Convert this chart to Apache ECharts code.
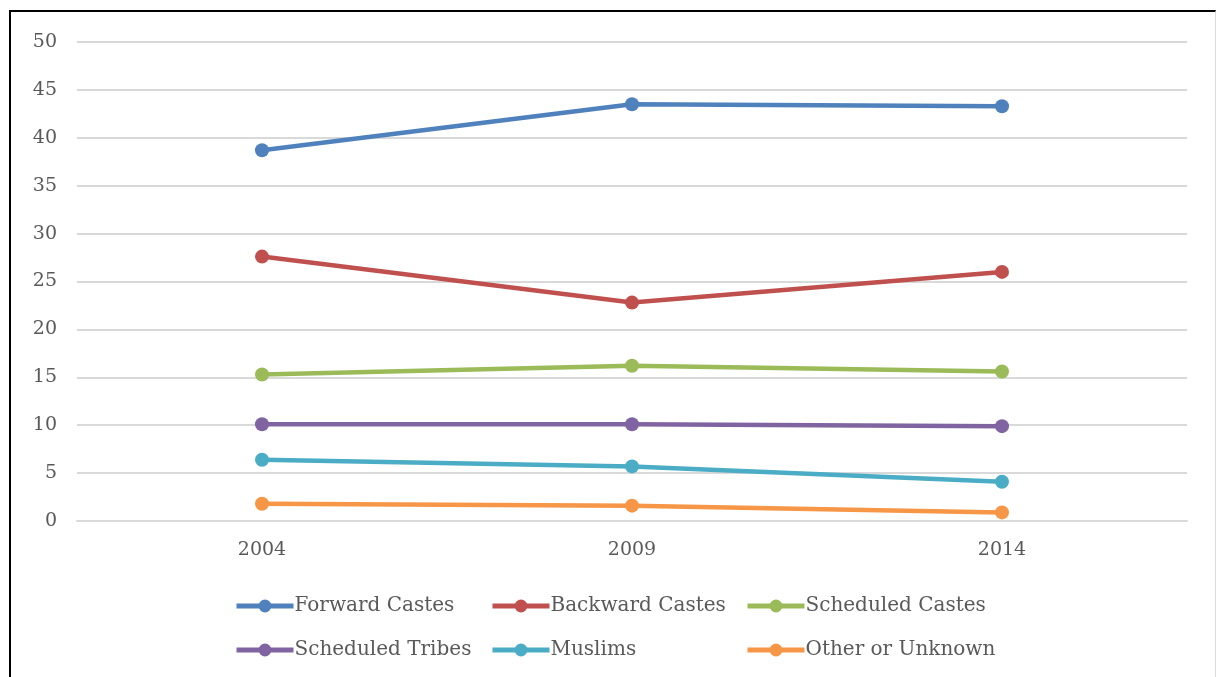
<!DOCTYPE html>
<html>
<head>
<meta charset="utf-8">
<script src="https://cdn.jsdelivr.net/npm/echarts@6/dist/echarts.min.js"></script>
<style>
  html, body { margin: 0; padding: 0; background: #fff; }
  #frame {
    position: absolute; left: 9px; top: 10px; width: 1204px; height: 680px;
    border-left: 2px solid #000; border-top: 2px solid #000; border-right: 1px solid #d9d9d9;
  }
  #chart { position: absolute; left: 0; top: 0; width: 1216px; height: 677px; }
</style>
</head>
<body>
<div id="frame"></div>
<div id="chart"></div>
<script>
// categories and values
const years = ['2004', '2009', '2014'];
const forwardCastes = [38.7, 43.5, 43.3];
const backwardCastes = [27.6, 22.8, 26.0];
const scheduledCastes = [15.3, 16.2, 15.6];
const scheduledTribes = [10.1, 10.1, 9.9];
const muslims = [6.4, 5.7, 4.1];
const otherUnknown = [1.8, 1.6, 0.9];

const seriesNames = ['Forward Castes', 'Backward Castes', 'Scheduled Castes',
  'Scheduled Tribes', 'Muslims', 'Other or Unknown'];
const seriesData = [forwardCastes, backwardCastes, scheduledCastes,
  scheduledTribes, muslims, otherUnknown];
const colors = ['#4f81bd', '#c0504d', '#9bbb59', '#8064a2', '#4bacc6', '#f79646'];

const font = 'DejaVu Serif';
const textColor = '#595959';

// one vertical legend per column so the two rows line up
function legendCol(left, names) {
  return {
    left: left, top: 591, orient: 'vertical',
    itemWidth: 57, itemHeight: 16, itemGap: 24,
    data: names,
    lineStyle: { width: 5 },
    textStyle: { fontFamily: font, fontSize: 20, color: textColor, padding: [0, 0, 0, -4] }
  };
}

const chart = echarts.init(document.getElementById('chart'));
chart.setOption({
  color: colors,
  animation: false,
  grid: { left: 77, right: 29, top: 42, bottom: 156 },
  legend: [
    legendCol(229, ['Forward Castes', 'Scheduled Tribes']),
    legendCol(485, ['Backward Castes', 'Muslims']),
    legendCol(740, ['Scheduled Castes', 'Other or Unknown'])
  ],
  xAxis: {
    type: 'category',
    data: years,
    axisLine: { show: true, lineStyle: { color: '#d9d9d9', width: 2 } },
    axisTick: { show: false },
    axisLabel: { fontFamily: font, fontSize: 19, color: textColor, margin: 20 }
  },
  yAxis: {
    type: 'value',
    min: 0, max: 50, interval: 5,
    axisLine: { show: false },
    axisTick: { show: false },
    splitLine: { lineStyle: { color: '#d9d9d9', width: 2 } },
    axisLabel: { fontFamily: font, fontSize: 19, color: textColor, margin: 20 }
  },
  series: seriesNames.map((name, i) => ({
    name: name,
    type: 'line',
    data: seriesData[i],
    symbol: 'circle',
    symbolSize: 14,
    lineStyle: { width: 4.5 },
    itemStyle: { color: colors[i] }
  }))
});
</script>
</body>
</html>
